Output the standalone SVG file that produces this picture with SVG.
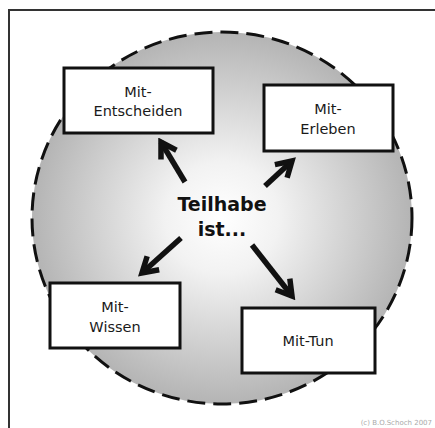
<svg xmlns="http://www.w3.org/2000/svg" width="435" height="428" viewBox="0 0 435 428">
<style>
.box{fill:#fff;stroke:#111;stroke-width:3}
.lbl{font-family:"DejaVu Sans",Verdana,sans-serif;font-size:14.5px;fill:#1a1a1a;text-anchor:middle}
.arr{stroke:#111;stroke-width:5.5;fill:none;marker-end:url(#ah)}
</style>
<defs>
<radialGradient id="g" cx="50%" cy="50%" r="50%">
<stop offset="0" stop-color="#ffffff"/>
<stop offset="0.3" stop-color="#f2f2f2"/>
<stop offset="1" stop-color="#b4b4b4"/>
</radialGradient>
<marker id="ah" markerUnits="userSpaceOnUse" viewBox="0 0 24 24" markerWidth="24" markerHeight="24" refX="19" refY="12" orient="auto">
<path d="M4,3 L19,12 L4,21" fill="none" stroke="#111" stroke-width="5.5"/>
</marker>
</defs>
<rect width="435" height="428" fill="#fff"/>
<rect x="9" y="10" width="440" height="430" fill="none" stroke="#333" stroke-width="2"/>
<ellipse cx="222" cy="218" rx="190" ry="186" fill="url(#g)" stroke="#111" stroke-width="3" stroke-dasharray="18 8"/>
<g id="connectors">
<line class="arr" x1="185" y1="182" x2="161" y2="142"/>
<line class="arr" x1="265" y1="186" x2="292" y2="161"/>
<line class="arr" x1="181" y1="238" x2="142" y2="273"/>
<line class="arr" x1="252" y1="245" x2="292" y2="296"/>
</g>
<g id="center">
<text x="222" y="211" font-family="DejaVu Sans,Verdana,sans-serif" font-size="19" font-weight="bold" fill="#111" text-anchor="middle">Teilhabe</text>
<text x="222" y="236" font-family="DejaVu Sans,Verdana,sans-serif" font-size="19" font-weight="bold" fill="#111" text-anchor="middle">ist...</text>
</g>
<g id="entscheiden">
<rect class="box" x="64" y="68" width="149" height="65"/>
<text class="lbl" x="138" y="97">Mit-</text>
<text class="lbl" x="138" y="116">Entscheiden</text>
</g>
<g id="erleben">
<rect class="box" x="264" y="85" width="129" height="66"/>
<text class="lbl" x="328" y="114">Mit-</text>
<text class="lbl" x="328" y="134">Erleben</text>
</g>
<g id="wissen">
<rect class="box" x="50" y="283" width="130" height="65"/>
<text class="lbl" x="115" y="312">Mit-</text>
<text class="lbl" x="115" y="332">Wissen</text>
</g>
<g id="tun">
<rect class="box" x="242" y="308" width="133" height="65"/>
<text class="lbl" x="308" y="346">Mit-Tun</text>
</g>
<text x="432" y="425" font-family="DejaVu Sans,Verdana,sans-serif" font-size="7" fill="#aaa" text-anchor="end">(c) B.O.Schoch 2007</text>
</svg>
